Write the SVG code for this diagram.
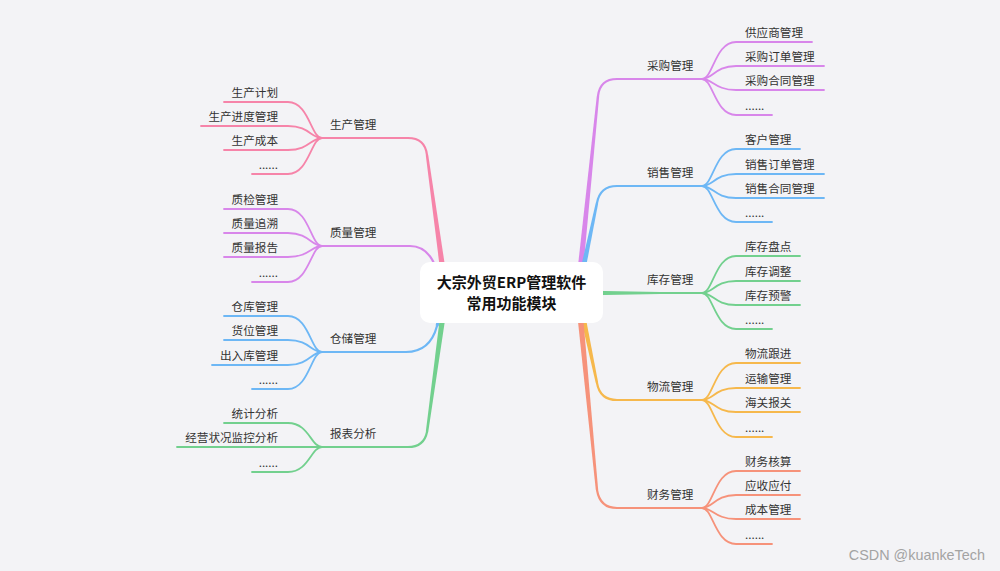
<svg xmlns="http://www.w3.org/2000/svg" width="1000" height="571" viewBox="0 0 1000 571">
<defs>
<style>
.t{font-family:"Noto Sans CJK SC","Noto Sans",sans-serif;font-size:11.6px;fill:#333}
.c{font-family:"Noto Sans CJK SC","Noto Sans",sans-serif;font-size:15px;font-weight:bold;fill:#111}
.r{text-anchor:end}
.ln{fill:none;stroke-width:1.8;stroke-linecap:round}
.pl{fill:none;stroke-width:2.2;stroke-linecap:round}
.pu{stroke:#d886ea}.bl{stroke:#6db7f5}.gr{stroke:#72d08e}.or{stroke:#f6b84c}.sa{stroke:#f6927a}.pk{stroke:#f684a9}
.fpu{fill:#d886ea}.fbl{fill:#6db7f5}.fgr{fill:#72d08e}.for{fill:#f6b84c}.fsa{fill:#f6927a}.fpk{fill:#f684a9}
.wm{font-family:"Liberation Sans",Arial,sans-serif;font-size:14.4px;fill:#a3a3a3}
</style>
</defs>
<rect width="1000" height="571" fill="#f3f3f6"/>
<g id="connectors">
<!-- right trunks -->
<polygon class="fpu" points="575.0,292.7 596.8,95.9 599.2,96.1 581.0,293.3"/>
<path class="pl pu" d="M598,96 Q600,79 617,79 L702,79"/>
<polygon class="fbl" points="575.1,292.4 595.8,202.8 598.2,203.3 580.9,293.6"/>
<path class="pl bl" d="M597,203 Q600,186 617,186 L702,186"/>
<polygon class="fgr" points="578,290.5 660,292 660,294 578,295.5"/>
<path class="pl gr" d="M600,293 L702,293"/>
<polygon class="for" points="580.9,292.4 598.2,382.8 595.8,383.3 575.1,293.6"/>
<path class="pl or" d="M597,383 Q600,400 617,400 L702,400"/>
<polygon class="fsa" points="581.0,292.7 598.2,489.9 595.8,490.1 575.0,293.3"/>
<path class="pl sa" d="M597,490 Q600,508 617,508 L702,508"/>
<!-- left trunks -->
<polygon class="fpk" points="449.0,292.6 428.2,154.8 425.8,155.2 443.0,293.4"/>
<path class="pl pk" d="M427,155 Q425,138 408,138 L322,138"/>
<polygon class="fpu" points="448.8,291.9 437.4,267.4 434.6,268.6 443.2,294.1"/>
<path class="pl pu" d="M436,268 Q428,246 410,246 L322,246"/>
<polygon class="fbl" points="448.9,293.8 438.5,326.4 435.6,325.6 443.1,292.2"/>
<path class="pl bl" d="M437,326 Q430,352 406,352 L322,352"/>
<polygon class="fgr" points="449.0,293.4 428.2,432.2 425.8,431.8 443.0,292.6"/>
<path class="pl gr" d="M427,432 Q424,447 408,447 L322,447"/>
<!-- right children -->
<g class="ln pu">
<path d="M702,79 C713,79 715,42 736,42 L812,42"/>
<path d="M702,79 C713,79 715,66 736,66 L824,66"/>
<path d="M702,79 C713,79 715,90 736,90 L824,90"/>
<path d="M702,79 C713,79 715,115 736,115 L772,115"/>
</g>
<g class="ln bl">
<path d="M702,186 C713,186 715,149 736,149 L800,149"/>
<path d="M702,186 C713,186 715,174 736,174 L824,174"/>
<path d="M702,186 C713,186 715,198 736,198 L824,198"/>
<path d="M702,186 C713,186 715,222 736,222 L772,222"/>
</g>
<g class="ln gr">
<path d="M702,293 C713,293 715,256 736,256 L800,256"/>
<path d="M702,293 C713,293 715,281 736,281 L800,281"/>
<path d="M702,293 C713,293 715,305 736,305 L800,305"/>
<path d="M702,293 C713,293 715,329 736,329 L772,329"/>
</g>
<g class="ln or">
<path d="M702,400 C713,400 715,363 736,363 L800,363"/>
<path d="M702,400 C713,400 715,388 736,388 L800,388"/>
<path d="M702,400 C713,400 715,412 736,412 L800,412"/>
<path d="M702,400 C713,400 715,437 736,437 L772,437"/>
</g>
<g class="ln sa">
<path d="M702,508 C713,508 715,471 736,471 L800,471"/>
<path d="M702,508 C713,508 715,495 736,495 L800,495"/>
<path d="M702,508 C713,508 715,519 736,519 L800,519"/>
<path d="M702,508 C713,508 715,544 736,544 L772,544"/>
</g>
<!-- left children -->
<g class="ln pk">
<path d="M322,138 C311,138 309,102 288,102 L224,102"/>
<path d="M322,138 C311,138 309,126 288,126 L201,126"/>
<path d="M322,138 C311,138 309,150 288,150 L224,150"/>
<path d="M322,138 C311,138 309,174 288,174 L252,174"/>
</g>
<g class="ln pu">
<path d="M322,246 C311,246 309,209 288,209 L224,209"/>
<path d="M322,246 C311,246 309,233 288,233 L224,233"/>
<path d="M322,246 C311,246 309,257 288,257 L224,257"/>
<path d="M322,246 C311,246 309,282 288,282 L252,282"/>
</g>
<g class="ln bl">
<path d="M322,352 C311,352 309,316 288,316 L224,316"/>
<path d="M322,352 C311,352 309,340 288,340 L224,340"/>
<path d="M322,352 C311,352 309,365 288,365 L212,365"/>
<path d="M322,352 C311,352 309,389 288,389 L252,389"/>
</g>
<g class="ln gr">
<path d="M322,447 C311,447 309,423 288,423 L224,423"/>
<path d="M322,447 L177,447"/>
<path d="M322,447 C311,447 309,472 288,472 L252,472"/>
</g>
</g>
<g id="center">
<rect x="420" y="262" width="183" height="61" rx="10" fill="#ffffff"/>
<text class="c" x="511.5" y="288" text-anchor="middle">大宗外贸ERP管理软件</text>
<text class="c" x="511.5" y="309" text-anchor="middle">常用功能模块</text>
</g>
<g id="caigou">
<text class="t" x="647" y="69.5">采购管理</text>
<text class="t" x="745" y="37">供应商管理</text>
<text class="t" x="745" y="61">采购订单管理</text>
<text class="t" x="745" y="85">采购合同管理</text>
<text class="t" x="745" y="110">......</text>
</g>
<g id="xiaoshou">
<text class="t" x="647" y="176.5">销售管理</text>
<text class="t" x="745" y="144">客户管理</text>
<text class="t" x="745" y="169">销售订单管理</text>
<text class="t" x="745" y="193">销售合同管理</text>
<text class="t" x="745" y="217">......</text>
</g>
<g id="kucun">
<text class="t" x="647" y="283.5">库存管理</text>
<text class="t" x="745" y="251">库存盘点</text>
<text class="t" x="745" y="276">库存调整</text>
<text class="t" x="745" y="300">库存预警</text>
<text class="t" x="745" y="324">......</text>
</g>
<g id="wuliu">
<text class="t" x="647" y="390.5">物流管理</text>
<text class="t" x="745" y="358">物流跟进</text>
<text class="t" x="745" y="383">运输管理</text>
<text class="t" x="745" y="407">海关报关</text>
<text class="t" x="745" y="432">......</text>
</g>
<g id="caiwu">
<text class="t" x="647" y="498.5">财务管理</text>
<text class="t" x="745" y="466">财务核算</text>
<text class="t" x="745" y="490">应收应付</text>
<text class="t" x="745" y="514">成本管理</text>
<text class="t" x="745" y="539">......</text>
</g>
<g id="shengchan">
<text class="t" x="330" y="129">生产管理</text>
<text class="t r" x="278" y="97">生产计划</text>
<text class="t r" x="278" y="121">生产进度管理</text>
<text class="t r" x="278" y="145">生产成本</text>
<text class="t r" x="278" y="169">......</text>
</g>
<g id="zhiliang">
<text class="t" x="330" y="237">质量管理</text>
<text class="t r" x="278" y="204">质检管理</text>
<text class="t r" x="278" y="228">质量追溯</text>
<text class="t r" x="278" y="252">质量报告</text>
<text class="t r" x="278" y="277">......</text>
</g>
<g id="cangchu">
<text class="t" x="330" y="343">仓储管理</text>
<text class="t r" x="278" y="311">仓库管理</text>
<text class="t r" x="278" y="335">货位管理</text>
<text class="t r" x="278" y="360">出入库管理</text>
<text class="t r" x="278" y="384">......</text>
</g>
<g id="baobiao">
<text class="t" x="330" y="438">报表分析</text>
<text class="t r" x="278" y="418">统计分析</text>
<text class="t r" x="278" y="442">经营状况监控分析</text>
<text class="t r" x="278" y="467">......</text>
</g>
<text class="wm" x="985" y="560" text-anchor="end">CSDN @kuankeTech</text>
</svg>
